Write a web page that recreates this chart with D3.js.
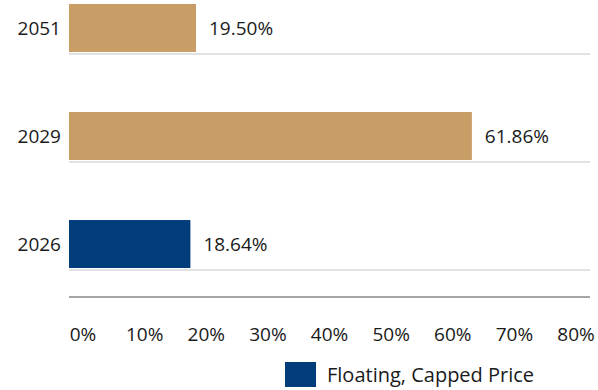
<!DOCTYPE html>
<html><head><meta charset="utf-8">
<script src="https://cdn.jsdelivr.net/npm/d3@7"></script>
<style>body{margin:0;background:#fff}svg{display:block}text{font-family:"Open Sans",sans-serif;fill:#1a1a1a}</style>
</head><body>
<script>
const categories = ["2051", "2029", "2026"];
const values = [19.50, 61.86, 18.64];
const barColors = ["#C89D66", "#C89D66", "#003D7A"];
const tickLabels = ["0%","10%","20%","30%","40%","50%","60%","70%","80%"];
const tickValues = [0,10,20,30,40,50,60,70,80];
const legendLabel = "Floating, Capped Price";
const legendColor = "#003D7A";

const W = 598, H = 390;
const svg = d3.select("body").append("svg").attr("width", W).attr("height", H);

const x = d3.scaleLinear().domain([0, 80]).range([69, 590]);
const xLab = d3.scaleLinear().domain([0, 80]).range([83, 576]);
const y = d3.scaleBand().domain(categories).range([4, 268]).paddingInner(0.556).paddingOuter(0);

svg.selectAll("line.sep").data(categories).enter().append("line")
  .attr("x1", x(0)).attr("x2", x(80))
  .attr("y1", d => y(d) + y.bandwidth() + 2).attr("y2", d => y(d) + y.bandwidth() + 2)
  .attr("stroke", "#d9d9d9").attr("stroke-width", 1.5);

svg.append("line").attr("x1", x(0)).attr("x2", x(80)).attr("y1", 297).attr("y2", 297)
  .attr("stroke", "#a6a6a6").attr("stroke-width", 2);

svg.selectAll("rect.bar").data(categories).enter().append("rect")
  .attr("x", x(0)).attr("y", d => y(d))
  .attr("width", (d, i) => x(values[i]) - x(0))
  .attr("height", y.bandwidth())
  .attr("fill", (d, i) => barColors[i]);

svg.selectAll("text.val").data(categories).enter().append("text")
  .attr("x", (d, i) => x(values[i]) + 13)
  .attr("y", d => y(d) + y.bandwidth() / 2)
  .attr("dy", "0.35em").attr("font-size", 19)
  .text((d, i) => values[i].toFixed(2) + "%");

svg.selectAll("text.cat").data(categories).enter().append("text")
  .attr("x", 61).attr("y", d => y(d) + y.bandwidth() / 2)
  .attr("dy", "0.35em").attr("text-anchor", "end").attr("font-size", 19)
  .text(d => d);

svg.selectAll("text.tick").data(tickValues).enter().append("text")
  .attr("x", d => xLab(d)).attr("y", 334).attr("dy", "0.35em")
  .attr("text-anchor", "middle").attr("font-size", 19)
  .text((d, i) => tickLabels[i]);

svg.append("rect").attr("x", 285).attr("y", 362).attr("width", 31).attr("height", 25).attr("fill", legendColor);
svg.append("text").attr("x", 327).attr("y", 375).attr("dy", "0.35em").attr("font-size", 20).text(legendLabel);
</script>
</body></html>
